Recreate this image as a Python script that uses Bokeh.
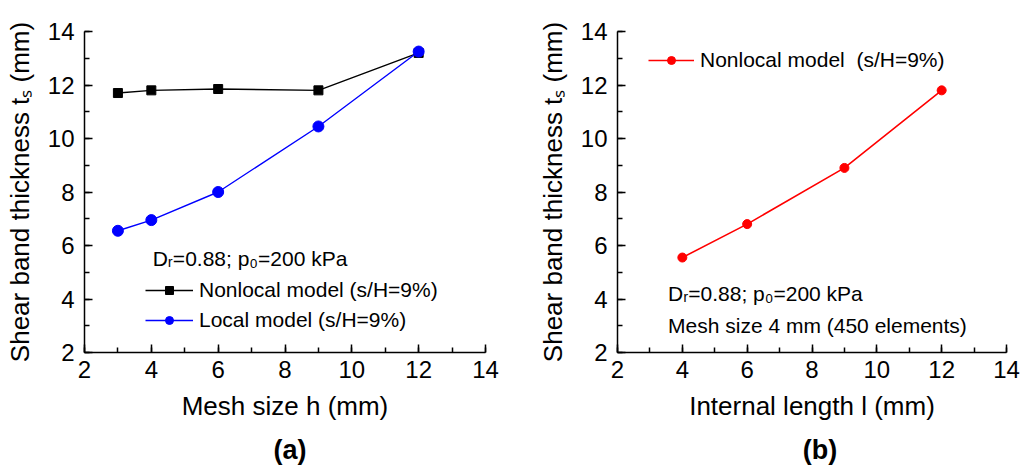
from bokeh.plotting import figure
from bokeh.models import (SingleIntervalTicker, Range1d, Label, Legend,
                          LegendItem, Div)
from bokeh.layouts import row, column
from bokeh.embed import file_html
from bokeh.resources import INLINE

# ---- data ----
mesh_h = [3, 4, 6, 9, 12]
nonlocal_ts = [11.7, 11.8, 11.85, 11.8, 13.2]
local_ts = [6.55, 6.95, 8.0, 10.45, 13.25]

internal_l = [4, 6, 9, 12]
nonlocal_l_ts = [5.55, 6.8, 8.9, 11.8]

x_lim = (2, 14)
y_lim = (2, 14)

FONT = "Liberation Sans"
YLABEL = "Shear band thickness t\u209b (mm)"
COND = "D\u1d63=0.88; p\u2080=200 kPa"


def make_fig(width, border_left, border_right, xlabel):
    p = figure(width=width, height=430, output_backend="svg",
               toolbar_location=None,
               x_range=Range1d(*x_lim), y_range=Range1d(*y_lim),
               min_border_left=border_left, min_border_right=border_right,
               min_border_top=31, min_border_bottom=78)
    p.outline_line_color = None
    p.xgrid.visible = False
    p.ygrid.visible = False
    for ax in (p.xaxis[0], p.yaxis[0]):
        ax.ticker = SingleIntervalTicker(interval=2, num_minor_ticks=2)
        ax.major_tick_in = 8
        ax.major_tick_out = 0
        ax.minor_tick_in = 5
        ax.minor_tick_out = 0
        ax.axis_line_width = 1.5
        ax.major_tick_line_width = 1.5
        ax.minor_tick_line_width = 1.5
        ax.axis_line_color = "black"
        ax.major_tick_line_color = "black"
        ax.minor_tick_line_color = "black"
        ax.major_label_text_font = FONT
        ax.major_label_text_font_size = "24px"
        ax.major_label_text_color = "black"
        ax.axis_label_text_font = FONT
        ax.axis_label_text_font_size = "26px"
        ax.axis_label_text_font_style = "normal"
        ax.axis_label_text_color = "black"
    p.xaxis[0].axis_label = xlabel
    p.yaxis[0].axis_label = YLABEL
    p.xaxis[0].major_label_standoff = 8
    p.xaxis[0].axis_label_standoff = 10
    p.yaxis[0].major_label_standoff = 10
    p.yaxis[0].axis_label_standoff = 10
    return p


def panel_div(text, width, left, box):
    html = ('<div style="margin-left:%dpx;width:%dpx;text-align:center;'
            'font-family:\'Liberation Sans\';font-weight:bold;font-size:27px;'
            'line-height:31px;color:black">%s</div>' % (left, box, text))
    return Div(text=html, width=width, height=35)


# ---- panel (a) ----
pa = make_fig(500, 84, 15, "Mesh size h (mm)")
l1 = pa.line(mesh_h, nonlocal_ts, line_color="black", line_width=1.4)
s1 = pa.scatter(mesh_h, nonlocal_ts, marker="square", size=9,
                fill_color="black", line_color="black")
l2 = pa.line(mesh_h, local_ts, line_color="#0000FF", line_width=1.4)
s2 = pa.scatter(mesh_h, local_ts, marker="circle", size=11,
                fill_color="#0000FF", line_color="#0000FF")
leg_a = Legend(items=[LegendItem(label="Nonlocal model (s/H=9%)", renderers=[l1, s1]),
                      LegendItem(label="Local model (s/H=9%)", renderers=[l2, s2])],
               location=(61, 20), padding=0, margin=0, spacing=6,
               glyph_width=48, glyph_height=20, label_height=20,
               label_standoff=6, background_fill_alpha=0,
               border_line_color=None, label_text_font=FONT,
               label_text_font_size="21px", label_text_color="black")
pa.add_layout(leg_a)
pa.add_layout(Label(x=4.04, y=5.5, text=COND, text_font=FONT,
                    text_font_size="21px", text_baseline="middle",
                    text_color="black"))

# ---- panel (b) ----
pb = make_fig(535, 117, 29, "Internal length l (mm)")
l3 = pb.line(internal_l, nonlocal_l_ts, line_color="#FF0000", line_width=1.6)
s3 = pb.scatter(internal_l, nonlocal_l_ts, marker="circle", size=9,
                fill_color="#FF0000", line_color="#FF0000")
leg_b = Legend(items=[LegendItem(label="Nonlocal model  (s/H=9%)", renderers=[l3, s3])],
               location=(31, 280), padding=0, margin=0, spacing=6,
               glyph_width=46, glyph_height=20, label_height=20,
               label_standoff=6, background_fill_alpha=0,
               border_line_color=None, label_text_font=FONT,
               label_text_font_size="21px", label_text_color="black")
pb.add_layout(leg_b)
pb.add_layout(Label(x=3.56, y=4.2, text=COND, text_font=FONT,
                    text_font_size="21px", text_baseline="middle",
                    text_color="black"))
pb.add_layout(Label(x=3.56, y=3.0, text="Mesh size 4 mm (450 elements)",
                    text_font=FONT, text_font_size="21px",
                    text_baseline="middle", text_color="black"))

layout = column(row(pa, pb),
                row(panel_div("(a)", 500, 79, 412), panel_div("(b)", 535, 102, 406)))
open("out.html", "w").write(file_html(layout, INLINE))
